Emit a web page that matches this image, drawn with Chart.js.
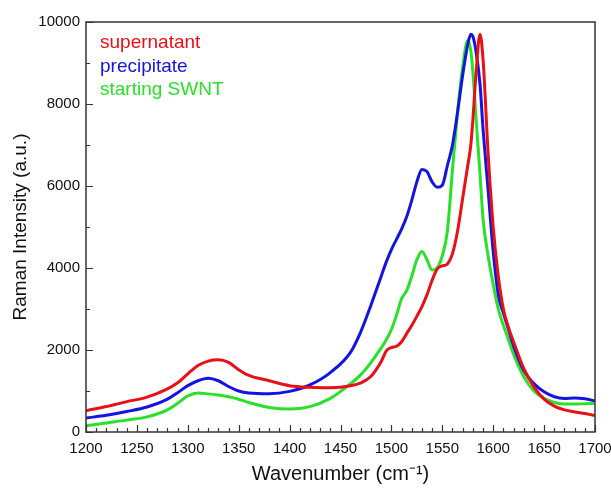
<!DOCTYPE html>
<html>
<head>
<meta charset="utf-8">
<script src="https://cdn.jsdelivr.net/npm/chart.js@4.4.1/dist/chart.umd.min.js"></script>
<style>
  html, body { margin: 0; padding: 0; background: #fff; }
  #wrap { width: 611px; height: 488px; }
</style>
</head>
<body>
<div id="wrap"><canvas id="chart" width="611" height="488"></canvas></div>
<script>
// wavenumber grid (cm-1) shared by all three spectra
var wavenumber = [1200,1220,1240,1260,1280,1290,1300,1310,1320,1330,1340,1350,1360,1380,1400,1420,1440,1460,1470,1480,
  1490,1495,1500,1505,1510,1515,1520,1525,1530,1535,1540,1545,1550,1555,1560,1565,1570,1575,1578,1580,
  1583,1587,1590,1595,1600,1605,1610,1615,1620,1630,1640,1650,1660,1670,1680,1690,1700];

var supernatant = [520,620,740,850,1050,1200,1420,1620,1730,1760,1700,1520,1380,1250,1130,1090,1080,1130,1200,1360,
  1720,1980,2060,2090,2200,2400,2600,2820,3060,3350,3700,3980,4050,4100,4350,4900,5700,6500,7000,7600,
  8700,9700,9100,6800,5000,3800,3000,2550,2200,1550,1100,800,630,540,490,450,400];

var precipitate = [340,410,500,610,800,960,1130,1250,1310,1250,1110,1000,950,930,990,1150,1450,1950,2450,3100,
  3800,4150,4450,4700,4950,5250,5650,6100,6400,6350,6100,5970,6020,6500,7000,7800,8700,9450,9700,9650,
  9300,8500,7400,5900,4400,3350,2900,2500,2100,1500,1180,980,860,820,830,810,760];

var startingSWNT = [150,220,290,370,540,700,880,950,930,900,860,800,720,600,560,620,820,1180,1400,1700,
  2050,2250,2500,2850,3250,3450,3800,4200,4400,4200,3950,4000,4300,4900,6400,7800,8900,9550,9300,8800,
  7700,6300,5200,4300,3600,3000,2600,2250,1900,1350,1000,820,720,680,680,690,700];

var seriesNames = ['supernatant', 'precipitate', 'starting SWNT'];
var seriesColors = ['rgb(232,16,22)', 'rgb(20,20,225)', 'rgb(40,225,40)'];

var fontFamily = '"Liberation Sans", Arial, sans-serif';

toPoints = (ys) => ys.map((y, i) => ({x: wavenumber[i], y: y}));

makeSet = (ys, color, label) => {
    return {
        label: label,
        data: toPoints(ys),
        borderColor: color,
        borderWidth: 3,
        pointRadius: 0,
        fill: false,
        tension: 0,
        cubicInterpolationMode: 'monotone'
    };
}

// frame, inward ticks and the coloured text legend
var framePlugin = {
    id: 'frame',
    afterDraw(chart) {
        var c = chart.ctx, a = chart.chartArea;
        var xs = chart.scales.x, ys = chart.scales.y;
        c.save();
        c.strokeStyle = '#333';
        c.lineWidth = 1.5;
        c.strokeRect(a.left, a.top, a.right - a.left, a.bottom - a.top);
        c.lineWidth = 1.2;
        c.beginPath();
        for (var v = 1200; v <= 1700; v += 10) {
            var px = Math.round(xs.getPixelForValue(v)) + 0.5;
            var len = (v % 50 === 0) ? 7 : 4;
            c.moveTo(px, a.bottom);
            c.lineTo(px, a.bottom - len);
        }
        for (var w = 0; w <= 10000; w += 1000) {
            var py = Math.round(ys.getPixelForValue(w)) + 0.5;
            var l2 = (w % 2000 === 0) ? 7 : 4;
            c.moveTo(a.left, py);
            c.lineTo(a.left + l2, py);
        }
        c.stroke();

        c.font = '19px ' + fontFamily;
        c.textBaseline = 'middle';
        c.textAlign = 'left';
        chart.data.datasets.forEach((ds, i) => {
            c.fillStyle = ds.borderColor;
            c.fillText(ds.label, a.left + 14, a.top + 21 + i * 23.5);
        });
        c.restore();
    }
};

var ctx = document.getElementById('chart').getContext('2d');
var myChart = new Chart(ctx, {
    type: 'line',
    data: {
        datasets: [
            makeSet(supernatant, seriesColors[0], seriesNames[0]),
            makeSet(precipitate, seriesColors[1], seriesNames[1]),
            makeSet(startingSWNT, seriesColors[2], seriesNames[2])
        ]
    },
    plugins: [framePlugin],
    options: {
        responsive: false,
        animation: false,
        layout: { padding: { top: 22, right: 0, left: 0, bottom: 0 } },
        plugins: { legend: { display: false }, tooltip: { enabled: false } },
        scales: {
            x: {
                type: 'linear',
                min: 1200,
                max: 1700,
                afterFit: (s) => { s.height = 56; s.paddingRight = 16; s.paddingLeft = 0; },
                grid: { display: false, drawTicks: false },
                border: { display: false },
                ticks: { stepSize: 50, color: '#111', padding: 8, font: { family: fontFamily, size: 15 },
                         callback: (v) => String(v) },
                title: { display: true, text: 'Wavenumber (cm\u207B\u00B9)', color: '#111',
                         font: { family: fontFamily, size: 20 }, padding: { top: 0, bottom: 2 } }
            },
            y: {
                min: 0,
                max: 10000,
                afterFit: (s) => { s.width = 86; },
                grid: { display: false, drawTicks: false },
                border: { display: false },
                ticks: { stepSize: 2000, color: '#111', padding: 6, font: { family: fontFamily, size: 15 },
                         callback: (v) => String(v) },
                title: { display: true, text: 'Raman Intensity (a.u.)', color: '#111',
                         font: { family: fontFamily, size: 19 }, padding: { top: 9, bottom: 0 } }
            }
        }
    }
});
</script>
</body>
</html>
